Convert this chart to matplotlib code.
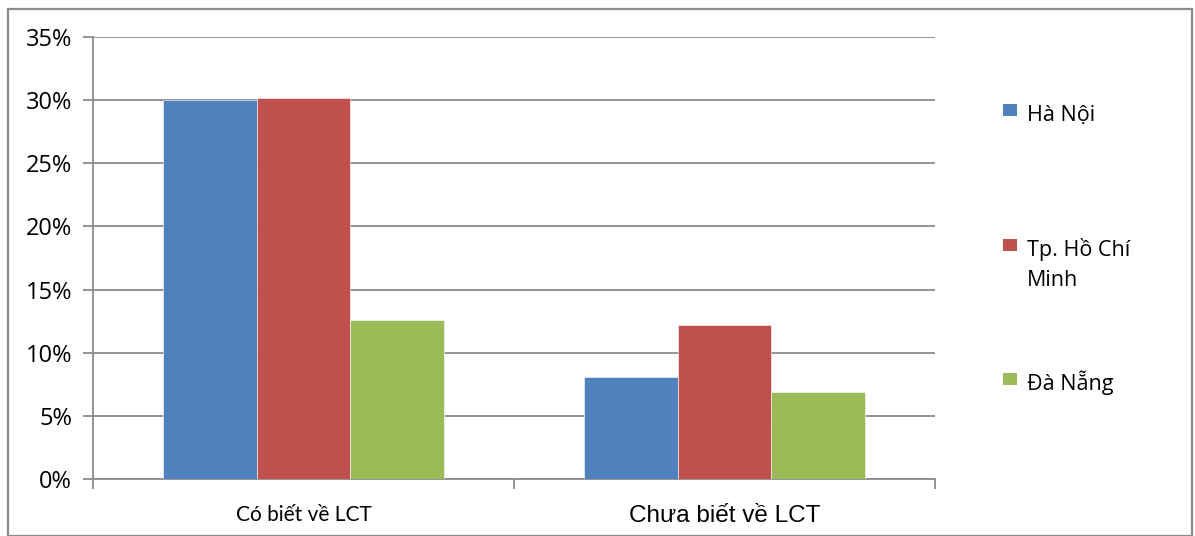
import matplotlib
matplotlib.use("Agg")
import matplotlib.pyplot as plt
from matplotlib.patches import Rectangle
from matplotlib.ticker import FuncFormatter
import numpy as np

categories = ["Có biết về LCT", "Chưa biết về LCT"]
series_names = ["Hà Nội", "Tp. Hồ Chí\nMinh", "Đà Nẵng"]
ha_noi = [30.0, 8.1]
hcm = [30.2, 12.2]
da_nang = [12.6, 6.9]
colors = ["#4F81BD", "#C0504D", "#9BBB59"]
yticks = [0, 5, 10, 15, 20, 25, 30, 35]

W, H = 1195, 536
fig = plt.figure(figsize=(W / 100, H / 100), dpi=100)
ax = fig.add_axes([93 / W, 1 - 479 / H, (935 - 93) / W, (479 - 37) / H])

x = np.arange(len(categories))
bw = 1 / 4.5
for i, (vals, c, name) in enumerate(zip([ha_noi, hcm, da_nang], colors, series_names)):
    ax.bar(x + (i - 1) * bw, vals, width=bw, color=c, edgecolor="white", linewidth=0.4,
           label=name, zorder=3)

ax.set_xlim(-0.5, 1.5)
ax.set_ylim(0, 35)
ax.set_yticks(yticks)
ax.yaxis.set_major_formatter(FuncFormatter(lambda v, p: f"{int(v)}%"))
ax.grid(axis="y", color="#8c8c8c", linewidth=1.3, zorder=0)
ax.set_axisbelow(True)

for s in ["top", "right"]:
    ax.spines[s].set_visible(False)
for s in ["left", "bottom"]:
    ax.spines[s].set_color("#8c8c8c")
    ax.spines[s].set_linewidth(1.3)

ax.set_xticks([-0.5, 0.5, 1.5])
ax.set_xticklabels([])
ax.set_xticks(x, minor=True)
ax.set_xticklabels(categories, minor=True)
ax.tick_params(axis="x", which="major", length=7, width=1.3, color="#8c8c8c", direction="out")
ax.tick_params(axis="x", which="minor", length=0, pad=19)
ax.tick_params(axis="y", length=7, width=1.3, color="#8c8c8c", direction="out", pad=8,
               labelsize=17)
for lbl in ax.get_yticklabels():
    lbl.set_fontfamily("Open Sans")
mlabels = ax.get_xticklabels(minor=True)
mlabels[0].set_fontfamily("Lato")
mlabels[0].set_fontsize(15)
mlabels[1].set_fontfamily("Liberation Sans")
mlabels[1].set_fontsize(17.5)

# legend (manual layout in figure pixels)
leg_marker_x = 1003
leg_text_x = 1027
leg_baselines = [121, 256, 390]
for name, c, yb in zip(series_names, colors, leg_baselines):
    fig.patches.append(Rectangle((leg_marker_x / W, 1 - (yb - 5) / H), 14 / W, 12 / H,
                                 transform=fig.transFigure, facecolor=c, edgecolor="none"))
    for k, ln in enumerate(name.split("\n")):
        fig.text(leg_text_x / W, 1 - (yb + 30 * k) / H, ln, ha="left", va="baseline",
                 family="Open Sans", fontsize=15.5)

fig.patches.append(Rectangle((8 / W, 0), (1192 - 8) / W, 1 - 9 / H, transform=fig.transFigure,
                             fill=False, edgecolor="#8c8c8c", linewidth=1.6))

fig.savefig("out.png", dpi=100)
